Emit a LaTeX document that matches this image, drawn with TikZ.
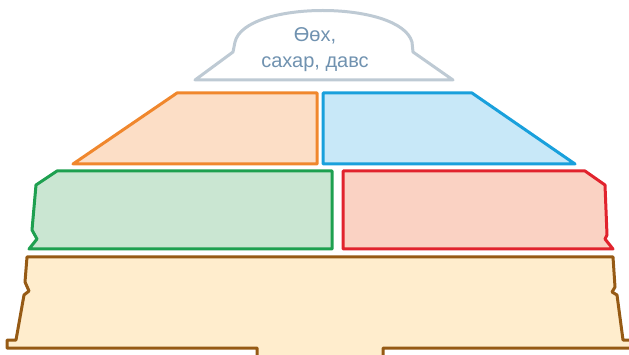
\documentclass[tikz,border=0pt]{standalone}
\usepackage{fontspec}
\setmainfont{Liberation Sans}
\definecolor{sweetline}{RGB}{190,202,212}
\definecolor{sweettext}{RGB}{112,146,176}
\definecolor{meatline}{RGB}{240,135,45}
\definecolor{meatfill}{RGB}{252,222,198}
\definecolor{milkline}{RGB}{25,160,220}
\definecolor{milkfill}{RGB}{200,232,248}
\definecolor{vegline}{RGB}{30,160,80}
\definecolor{vegfill}{RGB}{202,230,210}
\definecolor{fruitline}{RGB}{225,35,45}
\definecolor{fruitfill}{RGB}{250,210,195}
\definecolor{grainline}{RGB}{150,90,20}
\definecolor{grainfill}{RGB}{255,237,205}
\tikzset{
	sweets/.style = {draw = sweetline, fill = white},
	meat/.style = {draw = meatline, fill = meatfill},
	milk/.style = {draw = milkline, fill = milkfill},
	veg/.style = {draw = vegline, fill = vegfill},
	fruit/.style = {draw = fruitline, fill = fruitfill},
	grain/.style = {draw = grainline, fill = grainfill},
	toptext/.style = {text = sweettext, align = center, inner sep = 0pt, font = \fontsize{20}{26}\selectfont}
}
\begin{document}
\begin{tikzpicture}[x = 1pt, y = -1pt, line width = 3pt, line join = round]
		\useasboundingbox (0,0) rectangle (629,355);
		\clip (0,0) rectangle (629,355);
		\draw[sweets] (195,80) -- (233,52) -- (235,42) .. controls (245,0) and (400,0) .. (412,42) -- (413,52) -- (453,80) -- cycle;
		\node[toptext] (fat) at (315,50) {Өөх,\\сахар, давс};
		\draw[meat] (177,93) -- (317,93) -- (317,164) -- (73,164) -- cycle;
		\draw[milk] (323,93) -- (472,93) -- (575,164) -- (323,164) -- cycle;
		\draw[veg] (57,171) -- (332,171) -- (332,249) -- (29,249) -- (37,239) -- (32,230) -- (36,185) -- cycle;
		\draw[fruit] (343,171) -- (585,171) -- (605,185) -- (607,235) -- (605,239) -- (613,249) -- (343,249) -- cycle;
		\draw[grain] (27,257) -- (613,257) -- (615,287) -- (612,292) -- (617,295) -- (623,340) -- (633,340) -- (633,348) -- (383,348) -- (383,365) -- (257,365) -- (257,348) -- (7,348) -- (7,340) -- (16,340) -- (24,295) -- (29,291) -- (25,282) -- cycle;
\end{tikzpicture}
\end{document}
